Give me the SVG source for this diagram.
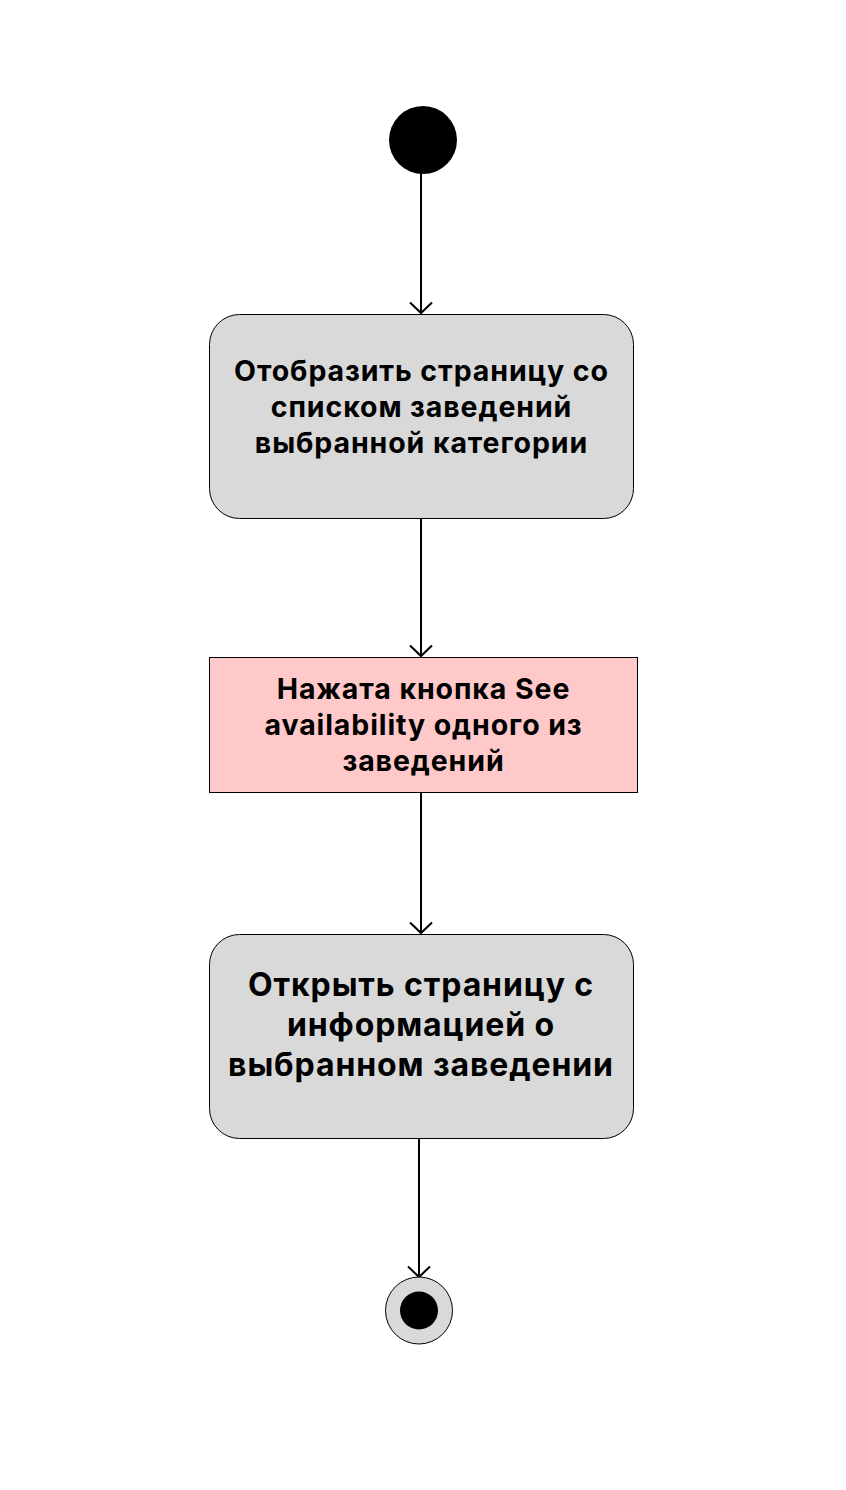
<svg xmlns="http://www.w3.org/2000/svg" width="846" height="1490" viewBox="0 0 846 1490">
<style>
.t{font-family:Inter,"Liberation Sans",sans-serif;font-weight:700;fill:#000;text-anchor:middle;letter-spacing:0.9px}
.c{stroke:#000;stroke-width:2;fill:none}
</style>
<defs>
<marker id="arr" viewBox="0 0 14 24" refX="12.5" refY="12" markerWidth="14" markerHeight="24" markerUnits="userSpaceOnUse" orient="auto">
<path d="M2,1 L12.5,12 L2,23" fill="none" stroke="#000" stroke-width="2"/>
</marker>
</defs>
<rect width="846" height="1490" fill="#fff"/>
<g id="connectors">
<line class="c" x1="421" y1="173" x2="421" y2="313" marker-end="url(#arr)"/>
<line class="c" x1="421" y1="518" x2="421" y2="656" marker-end="url(#arr)"/>
<line class="c" x1="421" y1="793" x2="421" y2="933" marker-end="url(#arr)"/>
<line class="c" x1="419" y1="1138" x2="419" y2="1277" marker-end="url(#arr)"/>
</g>
<g id="start">
<circle cx="423" cy="140" r="34" fill="#000"/>
</g>
<g id="node1">
<rect x="209.5" y="314.5" width="424" height="204" rx="30" fill="#d9d9d9" stroke="#000" stroke-width="1"/>
<text class="t" font-size="28.5"><tspan x="421.5" y="380.5">Отобразить страницу со</tspan><tspan x="421.5" y="416.5">списком заведений</tspan><tspan x="421.5" y="452.5">выбранной категории</tspan></text>
</g>
<g id="node2">
<rect x="209.5" y="657.5" width="428" height="135" fill="#ffc9c9" stroke="#000" stroke-width="1"/>
<text class="t" font-size="28.5"><tspan x="423.5" y="698.5">Нажата кнопка See</tspan><tspan x="423.5" y="734.5">availability одного из</tspan><tspan x="423.5" y="770.5">заведений</tspan></text>
</g>
<g id="node3">
<rect x="209.5" y="934.5" width="424" height="204" rx="30" fill="#d9d9d9" stroke="#000" stroke-width="1"/>
<text class="t" font-size="32"><tspan x="421" y="996">Открыть страницу с</tspan><tspan x="421" y="1036">информацией о</tspan><tspan x="421" y="1076">выбранном заведении</tspan></text>
</g>
<g id="end">
<circle cx="419" cy="1310.5" r="33.5" fill="#d9d9d9" stroke="#000" stroke-width="1"/>
<circle cx="419" cy="1310.5" r="19" fill="#000"/>
</g>
</svg>
